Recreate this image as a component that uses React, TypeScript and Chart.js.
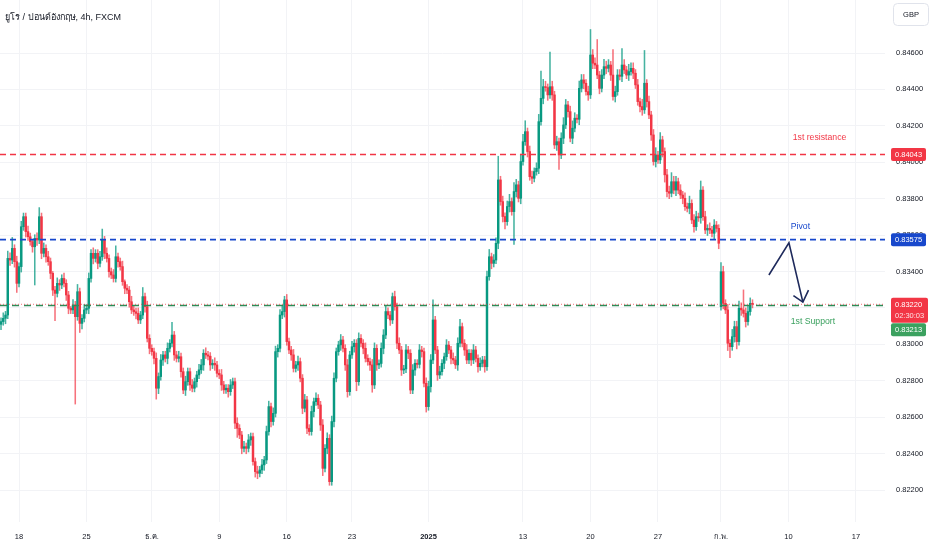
import React, { useEffect, useRef } from "react";
import { Chart, registerables } from "chart.js";

Chart.register(...registerables);

// ---- data -------------------------------------------------------------
const firstOpen = 0.8311;
const closes = [
  0.83125, 0.83143, 0.83161, 0.83472, 0.83463, 0.83527, 0.83454, 0.83335, 0.83427, 0.83646,
  0.83701, 0.83619, 0.83591, 0.83564, 0.83536, 0.83582, 0.83573, 0.83701, 0.835, 0.83527,
  0.83481, 0.83454, 0.8339, 0.83298, 0.8328, 0.83335, 0.83326, 0.83362, 0.83335, 0.83271,
  0.83198, 0.83189, 0.83216, 0.83152, 0.83289, 0.83115, 0.83143, 0.83189, 0.83198, 0.83362,
  0.835, 0.83472, 0.835, 0.83445, 0.83481, 0.83573, 0.835, 0.83472, 0.83399, 0.83381,
  0.83362, 0.83481, 0.83454, 0.83427, 0.83344, 0.83308, 0.83298, 0.83234, 0.83189, 0.83179,
  0.8317, 0.83134, 0.83161, 0.83262, 0.83207, 0.83033, 0.82978, 0.8296, 0.82923, 0.82759,
  0.82823, 0.82914, 0.82942, 0.82923, 0.82978, 0.83006, 0.83051, 0.82942, 0.82923, 0.82932,
  0.8285, 0.82749, 0.82795, 0.8285, 0.82777, 0.82759, 0.82795, 0.82832, 0.8286, 0.82887,
  0.82951, 0.82942, 0.82935, 0.82887, 0.82896, 0.82887, 0.82841, 0.82832, 0.82777, 0.8275,
  0.82759, 0.8274, 0.82777, 0.82795, 0.82567, 0.82539, 0.82502, 0.82429, 0.82438, 0.82429,
  0.82475, 0.82493, 0.82356, 0.82301, 0.82292, 0.8231, 0.82338, 0.82365, 0.82521, 0.82658,
  0.82576, 0.82621, 0.8296, 0.82978, 0.83161, 0.8318, 0.83244, 0.83015, 0.82969, 0.82942,
  0.82868, 0.82887, 0.82905, 0.82814, 0.82649, 0.82695, 0.82539, 0.82521, 0.82631, 0.82685,
  0.82704, 0.82667, 0.82557, 0.82319, 0.82429, 0.82484, 0.82246, 0.82576, 0.82814, 0.8296,
  0.82997, 0.83024, 0.82978, 0.82887, 0.8274, 0.82942, 0.82987, 0.83006, 0.82795, 0.83033,
  0.83006, 0.82978, 0.82923, 0.82905, 0.82887, 0.82777, 0.82978, 0.82887, 0.82895, 0.82978,
  0.83051, 0.8318, 0.83161, 0.83134, 0.83262, 0.83207, 0.83006, 0.82969, 0.82859, 0.82865,
  0.82969, 0.82951, 0.82749, 0.82859, 0.82896, 0.8289, 0.82969, 0.8296, 0.82786, 0.82658,
  0.82768, 0.82914, 0.83134, 0.82969, 0.82832, 0.8285, 0.82896, 0.82932, 0.82996, 0.82969,
  0.82923, 0.82914, 0.82887, 0.83006, 0.83097, 0.83006, 0.82969, 0.82914, 0.82951, 0.82914,
  0.82969, 0.82923, 0.82877, 0.82896, 0.82914, 0.82877, 0.83372, 0.83481, 0.83445, 0.83463,
  0.83555, 0.83903, 0.83784, 0.83702, 0.83674, 0.83757, 0.83784, 0.83729, 0.83839, 0.83876,
  0.83802, 0.84004, 0.84113, 0.84168, 0.84059, 0.83921, 0.83912, 0.83949, 0.83967, 0.84223,
  0.84351, 0.84415, 0.8441, 0.8437, 0.84415, 0.8437, 0.84095, 0.84113, 0.8404, 0.84132,
  0.84205, 0.84315, 0.84278, 0.84132, 0.84187, 0.84242, 0.84236, 0.84406, 0.84452, 0.84434,
  0.84388, 0.8437, 0.84589, 0.84544, 0.84534, 0.84479, 0.84406, 0.84479, 0.84525, 0.84516,
  0.84534, 0.84479, 0.84361, 0.84388, 0.84479, 0.84472, 0.84534, 0.84507, 0.84479, 0.84498,
  0.84516, 0.84489, 0.84425, 0.84333, 0.84306, 0.84288, 0.84434, 0.84333, 0.8426, 0.8415,
  0.84004, 0.8404, 0.84013, 0.84123, 0.84059, 0.83931, 0.83839, 0.8383, 0.83893, 0.83847,
  0.83893, 0.83847, 0.8382, 0.83802, 0.83756, 0.83747, 0.83774, 0.83683, 0.83646, 0.83701,
  0.83695, 0.83847, 0.83701, 0.83628, 0.83637, 0.83628, 0.8361, 0.83655, 0.83637, 0.83555,
  0.83399, 0.83225, 0.83189, 0.83006, 0.82987, 0.83042, 0.83097, 0.83015, 0.83198, 0.83189,
  0.8317, 0.83125, 0.8318, 0.83225, 0.8322,
];
// weekend gap: open of the first bar of the week (bar index -> open)
const gapOpens: Record<number, number> = { 320: 0.83207 };
// wick lengths in pips beyond the body
const upWick = [
  2, 3, 2, 4, 3, 6, 2, 3, 2, 3, 2, 2, 3, 2, 1, 2, 3, 5, 2, 3,
  2, 3, 2, 1, 2, 3, 2, 2, 3, 2, 2, 1, 3, 2, 4, 2, 2, 3, 2, 3,
  2, 3, 2, 2, 3, 6, 2, 3, 2, 2, 3, 6, 2, 2, 3, 1, 2, 2, 3, 2,
  2, 3, 2, 5, 2, 3, 2, 2, 2, 3, 2, 3, 2, 2, 3, 2, 7, 2, 2, 3,
  2, 2, 3, 2, 2, 3, 2, 2, 3, 3, 2, 3, 2, 2, 2, 3, 2, 2, 3, 2,
  2, 2, 3, 2, 2, 3, 2, 2, 3, 2, 3, 2, 2, 2, 3, 2, 3, 2, 3, 3,
  2, 3, 3, 2, 3, 3, 2, 3, 2, 2, 3, 2, 3, 2, 2, 3, 2, 2, 3, 2,
  3, 2, 2, 3, 2, 3, 2, 3, 3, 2, 2, 3, 2, 2, 3, 2, 3, 2, 2, 3,
  2, 2, 3, 2, 2, 3, 3, 2, 2, 3, 3, 3, 2, 2, 2, 3, 2, 3, 2, 2,
  3, 2, 2, 3, 2, 2, 3, 2, 2, 3, 3, 3, 11, 2, 2, 3, 2, 2, 3, 2,
  2, 3, 2, 3, 4, 2, 2, 3, 2, 2, 3, 2, 2, 3, 2, 2, 3, 4, 2, 3,
  3, 13, 2, 3, 2, 3, 4, 2, 5, 3, 2, 4, 4, 6, 2, 3, 3, 2, 3, 4,
  15, 4, 3, 2, 19, 3, 2, 3, 2, 3, 4, 3, 2, 3, 4, 3, 2, 4, 3, 3,
  2, 3, 14, 3, 3, 14, 2, 3, 4, 3, 3, 2, 14, 3, 3, 3, 9, 3, 2, 4,
  3, 3, 2, 3, 2, 4, 18, 2, 3, 2, 3, 4, 2, 4, 2, 2, 3, 3, 5, 3,
  3, 2, 3, 2, 3, 2, 4, 2, 3, 3, 2, 5, 2, 3, 2, 3, 2, 3, 2, 2,
  5, 3, 2, 3, 2, 4, 3, 3, 4, 3, 11, 3, 3, 3, 2,
];
const downWick = [
  3, 2, 3, 2, 3, 2, 3, 5, 2, 3, 2, 3, 2, 2, 3, 21, 3, 2, 3, 2,
  3, 2, 3, 3, 15, 2, 3, 2, 2, 3, 3, 2, 2, 48, 2, 5, 3, 2, 2, 3,
  2, 3, 2, 3, 2, 2, 3, 2, 3, 2, 2, 2, 3, 2, 2, 3, 2, 3, 2, 2,
  3, 2, 2, 2, 3, 2, 3, 2, 3, 6, 3, 2, 3, 2, 3, 2, 2, 3, 2, 2,
  3, 2, 3, 2, 3, 2, 2, 3, 2, 2, 3, 2, 2, 3, 2, 3, 2, 2, 3, 2,
  2, 3, 2, 2, 3, 5, 2, 3, 2, 3, 2, 3, 2, 3, 3, 2, 2, 3, 2, 2,
  3, 2, 2, 3, 2, 2, 3, 2, 2, 3, 2, 2, 3, 2, 3, 2, 3, 2, 2, 3,
  2, 2, 3, 4, 2, 3, 2, 2, 3, 2, 2, 3, 2, 3, 3, 2, 2, 3, 5, 2,
  2, 3, 2, 2, 3, 4, 2, 3, 2, 2, 3, 2, 2, 3, 2, 2, 3, 2, 3, 2,
  2, 3, 2, 2, 3, 2, 2, 3, 2, 3, 2, 3, 2, 2, 3, 2, 2, 3, 2, 2,
  3, 2, 2, 3, 2, 2, 3, 2, 2, 3, 2, 2, 3, 2, 2, 3, 2, 2, 3, 2,
  2, 3, 2, 3, 4, 2, 3, 2, 18, 3, 2, 3, 2, 2, 3, 2, 3, 2, 2, 3,
  2, 3, 2, 3, 2, 3, 2, 3, 8, 2, 3, 2, 3, 2, 3, 2, 2, 3, 2, 3,
  2, 3, 2, 3, 2, 2, 3, 2, 2, 3, 2, 3, 2, 3, 2, 2, 3, 2, 2, 3,
  2, 3, 2, 2, 3, 3, 2, 3, 2, 3, 2, 3, 2, 2, 3, 4, 3, 3, 2, 2,
  3, 2, 2, 3, 2, 2, 3, 2, 3, 2, 2, 3, 2, 2, 3, 2, 2, 3, 2, 3,
  2, 3, 2, 4, 6, 2, 3, 4, 2, 3, 2, 3, 2, 2, 2,
];

const tickBars = [8, 38, 67, 97, 127, 156, 190, 232, 262, 292, 320, 350, 380];
const tickLabels = ["18", "25", "ธ.ค.", "9", "16", "23", "2025", "13", "20", "27", "ก.พ.", "10", "17"];
const boldTicks = ["2025"];
const priceTicks = [0.822, 0.824, 0.826, 0.828, 0.83, 0.832, 0.834, 0.836, 0.838, 0.84, 0.842, 0.844, 0.846];

const resistance = 0.84043;
const pivot = 0.83575;
const support = 0.83213;
const lastPrice = 0.8322;
const countdown = "02:30:03";
const title = "ยูโร / ปอนด์อังกฤษ, 4h, FXCM";
const currency = "GBP";
const labelBar = 351;
const arrowPath = [
  { x: 341.3, y: 0.83381 },
  { x: 350.2, y: 0.83557 },
  { x: 356.4, y: 0.83232 },
];
const arrowHead = [
  { x: 352.2, y: 0.83268 },
  { x: 356.4, y: 0.83232 },
  { x: 358.9, y: 0.83298 },
];

// ---- style -------------------------------------------------------------
const PIP = 0.0001;
const UP = "#089981";
const DOWN = "#F23645";
const RED = "#F23645";
const BLUE = "#1848CC";
const GREEN = "#2E8B57";
const GREEN_BOX = "#3BA15F";
const ARROW = "#1E2A5C";
const TEXT = "#131722";
const GRID = "#F2F3F6";
const FONT = '"Liberation Sans", "Noto Sans", sans-serif';
const X_MIN = -0.45;
const X_MAX = 392.9;
const Y_MIN = 0.820243;
const Y_MAX = 0.848911;

function roundRect(ctx: CanvasRenderingContext2D, x: number, y: number, w: number, h: number, r: number) {
  ctx.beginPath();
  ctx.moveTo(x + r, y);
  ctx.lineTo(x + w - r, y);
  ctx.quadraticCurveTo(x + w, y, x + w, y + r);
  ctx.lineTo(x + w, y + h - r);
  ctx.quadraticCurveTo(x + w, y + h, x + w - r, y + h);
  ctx.lineTo(x + r, y + h);
  ctx.quadraticCurveTo(x, y + h, x, y + h - r);
  ctx.lineTo(x, y + r);
  ctx.quadraticCurveTo(x, y, x + r, y);
  ctx.closePath();
}

const overlay = {
  id: "overlay",
  afterDraw(chart: any) {
    const ctx: CanvasRenderingContext2D = chart.ctx;
    const xs = chart.scales.x;
    const ys = chart.scales.y;
    const area = chart.chartArea;
    ctx.save();

    // arrow annotation
    ctx.strokeStyle = ARROW;
    ctx.lineWidth = 1.6;
    ctx.lineJoin = "miter";
    const poly = (pts: { x: number; y: number }[]) => {
      ctx.beginPath();
      pts.forEach((p, i) => {
        const px = xs.getPixelForValue(p.x);
        const py = ys.getPixelForValue(p.y);
        if (i === 0) ctx.moveTo(px, py);
        else ctx.lineTo(px, py);
      });
      ctx.stroke();
    };
    poly(arrowPath);
    poly(arrowHead);

    // line texts
    const lx = xs.getPixelForValue(labelBar);
    ctx.font = `8.7px ${FONT}`;
    ctx.textAlign = "left";
    ctx.textBaseline = "middle";
    ctx.fillStyle = RED;
    ctx.fillText("1st resistance", lx + 2, ys.getPixelForValue(resistance) - 17);
    ctx.fillStyle = BLUE;
    ctx.fillText("Pivot", lx, ys.getPixelForValue(pivot) - 13);
    ctx.fillStyle = GREEN_BOX;
    ctx.fillText("1st Support", lx, ys.getPixelForValue(support) + 16);

    // title
    ctx.fillStyle = TEXT;
    ctx.font = `9px ${FONT}`;
    ctx.fillText(title, 5, 18);

    // right axis labels
    const bx = area.right + 6;
    const bw = 35;
    const box = (y: number, h: number, color: string, w = bw) => {
      ctx.fillStyle = color;
      roundRect(ctx, bx, y, w, h, 2);
      ctx.fill();
    };
    ctx.font = `7.5px ${FONT}`;
    const tx = bx + 4;
    const ry = ys.getPixelForValue(resistance);
    box(ry - 6.5, 13, RED);
    ctx.fillStyle = "#fff";
    ctx.fillText(resistance.toFixed(5), tx, ry + 0.5);

    const py = ys.getPixelForValue(pivot);
    box(py - 6.5, 13, BLUE);
    ctx.fillStyle = "#fff";
    ctx.fillText(pivot.toFixed(5), tx, py + 0.5);

    const cy = ys.getPixelForValue(lastPrice);
    box(cy - 6.5, 25, RED, 37);
    ctx.fillStyle = "#fff";
    ctx.fillText(lastPrice.toFixed(5), tx, cy + 0.5);
    ctx.fillStyle = "rgba(255,255,255,0.85)";
    ctx.fillText(countdown, tx, cy + 11.5);

    box(cy + 19, 13, GREEN_BOX);
    ctx.fillStyle = "#fff";
    ctx.fillText(support.toFixed(5), tx, cy + 25.5);

    // currency box
    ctx.strokeStyle = "#E0E3EB";
    ctx.lineWidth = 1;
    roundRect(ctx, 893.5, 3.5, 35, 22, 4);
    ctx.fillStyle = "#fff";
    ctx.fill();
    ctx.stroke();
    ctx.fillStyle = TEXT;
    ctx.font = `7.5px ${FONT}`;
    ctx.textAlign = "center";
    ctx.fillText(currency, 911, 14.5);

    ctx.restore();
  },
};

export default function App() {
  const ref = useRef<HTMLCanvasElement>(null);

  useEffect(() => {
    document.body.style.margin = "0";
    if (!ref.current) return;
    const opens = closes.map((c, i) =>
      gapOpens[i] !== undefined ? gapOpens[i] : i === 0 ? firstOpen : closes[i - 1]
    );
    const highs = closes.map((c, i) => Math.max(opens[i], c) + upWick[i] * PIP);
    const lows = closes.map((c, i) => Math.min(opens[i], c) - downWick[i] * PIP);
    const colors = closes.map((c, i) => (c >= opens[i] ? UP : DOWN));
    const wickColors = closes.map((c, i) => (c >= opens[i] ? "rgba(8,153,129,0.75)" : "rgba(242,54,69,0.7)"));

    const hLine = (value: number, color: string, dash: number[], width: number) => ({
      type: "line" as const,
      data: [
        { x: X_MIN, y: value },
        { x: X_MAX, y: value },
      ],
      borderColor: color,
      borderDash: dash,
      borderWidth: width,
      pointRadius: 0,
      fill: false,
    });

    const chart = new Chart(ref.current, {
      type: "bar",
      data: {
        datasets: [
          hLine(resistance, RED, [6, 4], 1.6),
          hLine(pivot, BLUE, [6, 4], 1.8),
          hLine(lastPrice, "rgba(242,54,69,0.7)", [1, 2], 1),
          hLine(support, GREEN, [7, 5], 1.4),
          {
            type: "bar" as const,
            data: closes.map((c, i) => ({
              x: i,
              y: [Math.min(opens[i], c), Math.max(opens[i], c)],
            })) as any,
            backgroundColor: colors,
            barThickness: 1.8,
            minBarLength: 1,
            grouped: false,
            borderWidth: 0,
          },
          {
            type: "bar" as const,
            data: closes.map((c, i) => ({ x: i, y: [lows[i], highs[i]] })) as any,
            backgroundColor: wickColors,
            barThickness: 0.9,
            grouped: false,
            borderWidth: 0,
          },
        ] as any,
      },
      options: {
        animation: false,
        responsive: true,
        maintainAspectRatio: false,
        layout: { padding: 0 },
        plugins: { legend: { display: false }, tooltip: { enabled: false } },
        scales: {
          x: {
            type: "linear",
            min: X_MIN,
            max: X_MAX,
            offset: false,
            border: { display: false },
            grid: { color: GRID, drawTicks: false, lineWidth: 1, offset: false },
            afterFit: (s: any) => {
              s.height = 28;
              s.paddingLeft = 0;
              s.paddingRight = 0;
            },
            afterBuildTicks: (s: any) => {
              s.ticks = tickBars.map((v) => ({ value: v }));
            },
            ticks: {
              padding: 10,
              color: TEXT,
              maxRotation: 0,
              autoSkip: false,
              font: (c: any) => ({
                family: FONT,
                size: 7.5,
                weight: boldTicks.includes(tickLabels[c.index]) ? "bold" : "normal",
              }),
              callback: (_v: any, i: number) => tickLabels[i],
            },
          },
          y: {
            position: "right",
            min: Y_MIN,
            max: Y_MAX,
            border: { display: false },
            grid: { color: GRID, drawTicks: false, lineWidth: 1 },
            afterFit: (s: any) => {
              s.width = 47;
              s.paddingTop = 0;
              s.paddingBottom = 0;
            },
            afterBuildTicks: (s: any) => {
              s.ticks = priceTicks.map((v) => ({ value: v }));
            },
            ticks: {
              padding: 11,
              color: TEXT,
              font: { family: FONT, size: 7.5 },
              callback: (v: any) => Number(v).toFixed(5),
            },
          },
        },
      },
      plugins: [overlay],
    });
    return () => chart.destroy();
  }, []);

  return (
    <div style={{ position: "fixed", left: 0, top: 0, width: 932, height: 550, background: "#fff" }}>
      <canvas ref={ref} />
    </div>
  );
}
